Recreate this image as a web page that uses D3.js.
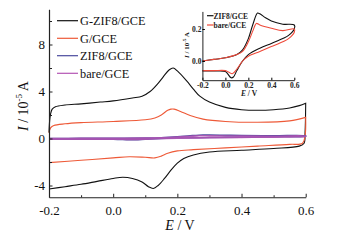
<!DOCTYPE html>
<html><head><meta charset="utf-8">
<script src="https://cdn.jsdelivr.net/npm/d3@7"></script>
<style>body{margin:0;background:#fff}svg{display:block}</style>
</head><body>
<svg id="c" width="358" height="244"></svg>
<script>
// ---------- main chart data (E / V, I / 10^-5 A) ----------
const seriesNames = ["G-ZIF8/GCE", "G/GCE", "ZIF8/GCE", "bare/GCE"];
const seriesColors = ["#111111", "#ee5a38", "#4a4a9e", "#b455b4"];

const gzifFwdE = [-0.2, -0.198, -0.195, -0.19, -0.18, -0.15, -0.1, -0.04, 0.0, 0.06, 0.09, 0.115, 0.14, 0.156, 0.175, 0.187, 0.2, 0.229, 0.25, 0.27, 0.3, 0.35, 0.4, 0.45, 0.5, 0.55, 0.58, 0.6];
const gzifFwdI = [0.5, 1.5, 2.1, 2.5, 2.7, 2.85, 2.95, 3.1, 3.2, 3.45, 3.6, 4.0, 4.7, 5.25, 5.85, 6.0, 5.75, 4.9, 4.2, 3.6, 3.1, 2.65, 2.45, 2.4, 2.45, 2.6, 2.8, 3.0];
const gzifRevE = [0.6, 0.598, 0.595, 0.58, 0.5, 0.4, 0.3, 0.25, 0.22, 0.2, 0.18, 0.16, 0.14, 0.125, 0.11, 0.09, 0.06, 0.03, 0.0, -0.05, -0.1, -0.15, -0.2];
const gzifRevI = [3.0, 0.5, -0.4, -0.65, -0.85, -1.0, -1.15, -1.4, -1.7, -2.1, -2.7, -3.4, -4.0, -4.25, -4.1, -3.7, -3.4, -3.3, -3.4, -3.65, -3.9, -4.1, -4.3];

const gFwdE = [-0.2, -0.195, -0.185, -0.15, -0.1, 0.0, 0.1, 0.13, 0.15, 0.17, 0.18, 0.19, 0.21, 0.24, 0.28, 0.35, 0.45, 0.55, 0.6];
const gFwdI = [0.5, 0.9, 1.1, 1.25, 1.35, 1.45, 1.6, 1.75, 2.0, 2.4, 2.5, 2.5, 2.3, 1.95, 1.65, 1.45, 1.38, 1.5, 1.8];
const gRevE = [0.6, 0.598, 0.59, 0.55, 0.45, 0.35, 0.25, 0.2, 0.17, 0.15, 0.13, 0.1, 0.05, 0.0, -0.1, -0.2];
const gRevI = [1.8, 0.2, -0.4, -0.5, -0.65, -0.8, -0.95, -1.05, -1.25, -1.5, -1.65, -1.6, -1.55, -1.65, -1.85, -2.05];

const zifFwdE = [-0.2, -0.1, 0.0, 0.1, 0.15, 0.2, 0.24, 0.28, 0.3, 0.35, 0.4, 0.5, 0.6];
const zifFwdI = [0.0, 0.01, 0.02, 0.04, 0.07, 0.14, 0.23, 0.3, 0.295, 0.27, 0.25, 0.23, 0.225];
const zifRevE = [0.6, 0.55, 0.5, 0.4, 0.3, 0.2, 0.15, 0.1, 0.07, 0.05, 0.02, 0.0, -0.1, -0.2];
const zifRevI = [0.2, 0.16, 0.14, 0.11, 0.08, 0.04, 0.0, -0.06, -0.1, -0.105, -0.08, -0.065, -0.062, -0.062];

const bareFwdE = [-0.2, -0.1, 0.0, 0.1, 0.15, 0.2, 0.24, 0.27, 0.3, 0.4, 0.5, 0.6];
const bareFwdI = [0.0, 0.01, 0.02, 0.04, 0.06, 0.12, 0.19, 0.235, 0.225, 0.205, 0.19, 0.2];
const bareRevE = [0.6, 0.55, 0.5, 0.4, 0.3, 0.2, 0.15, 0.1, 0.06, 0.03, 0.0, -0.1, -0.2];
const bareRevI = [0.18, 0.14, 0.12, 0.09, 0.06, 0.03, 0.0, -0.05, -0.08, -0.07, -0.06, -0.06, -0.06];

// tick labels
const mainXTicks = [-0.2, 0.0, 0.2, 0.4, 0.6];
const mainYTicks = [-4, 0, 4, 8];
const insetXTicks = [-0.2, 0.0, 0.2, 0.4, 0.6];
const insetYTicks = [0.0, 0.2];
const insetNames = ["ZIF8/GCE", "bare/GCE"];
const insetColors = ["#111111", "#ee4a3a"];

const svg = d3.select("#c");
const serif = "'Liberation Serif', 'Times New Roman', serif";

function loop(fe, fi, re, ri) {
  const pts = fe.map((e, i) => [e, fi[i]]);
  re.forEach((e, i) => pts.push([e, ri[i]]));
  return pts;
}

// ---------- main axes ----------
const x = d3.scaleLinear().domain([-0.2, 0.6]).range([49, 305.7]);
const y = d3.scaleLinear().domain([-5, 11]).range([197.25, 9.25]);

const line = d3.line().x(d => x(d[0])).y(d => y(d[1])).curve(d3.curveCatmullRom.alpha(0.5));

const mainData = [
  loop(gzifFwdE, gzifFwdI, gzifRevE, gzifRevI),
  loop(gFwdE, gFwdI, gRevE, gRevI),
  loop(zifFwdE, zifFwdI, zifRevE, zifRevI),
  loop(bareFwdE, bareFwdI, bareRevE, bareRevI)
];
const mainColors = [seriesColors[0], seriesColors[1], seriesColors[2], seriesColors[3]];
mainData.forEach((d, i) => {
  svg.append("path").attr("d", line(d)).attr("fill", "none")
    .attr("stroke", mainColors[i]).attr("stroke-width", i >= 2 ? 1.6 : 1.1)
    .attr("stroke-opacity", i === 3 ? 0.85 : 1);
});

// x axis
const xAxis = svg.append("g").attr("transform", `translate(0,${y(-5)})`)
  .call(d3.axisBottom(x).tickValues(mainXTicks).tickSizeInner(-3.5).tickSizeOuter(0).tickFormat(d3.format(".1f")));
svg.append("g").attr("transform", `translate(0,${y(-5)})`)
  .call(d3.axisBottom(x).tickValues([-0.1, 0.1, 0.3, 0.5]).tickSize(-2).tickFormat(""))
  .select(".domain").remove();
xAxis.selectAll("text").attr("y", 9).attr("font-family", serif).attr("font-size", 13).attr("fill", "#111");
xAxis.selectAll("text").text(d => d < 0 ? "-" + Math.abs(d).toFixed(1) : d.toFixed(1));

// y axis
const yAxis = svg.append("g").attr("transform", `translate(${x(-0.2)},0)`)
  .call(d3.axisLeft(y).tickValues(mainYTicks).tickSizeInner(-3.5).tickSizeOuter(0));
svg.append("g").attr("transform", `translate(${x(-0.2)},0)`)
  .call(d3.axisLeft(y).tickValues([-2, 2, 6, 10]).tickSize(-3).tickFormat(""))
  .select(".domain").remove();
yAxis.selectAll("text").attr("x", -4).attr("font-family", serif).attr("font-size", 13).attr("fill", "#111");
yAxis.selectAll("text").text(d => d < 0 ? "-" + Math.abs(d) : d);
svg.selectAll(".domain").attr("stroke", "#222").attr("stroke-width", 1.2);
svg.selectAll(".tick line").attr("stroke", "#222");

// axis titles
const xt = svg.append("text").attr("x", 180).attr("y", 230).attr("text-anchor", "middle")
  .attr("font-family", serif).attr("font-size", 14).attr("fill", "#111");
xt.append("tspan").attr("font-style", "italic").text("E");
xt.append("tspan").text(" / V");

const yt = svg.append("text").attr("transform", "translate(28,106) rotate(-90)").attr("text-anchor", "middle")
  .attr("font-family", serif).attr("font-size", 14).attr("fill", "#111");
yt.append("tspan").attr("font-style", "italic").text("I");
yt.append("tspan").text(" / 10");
yt.append("tspan").attr("font-size", 9).attr("dy", -6).text("-5");
yt.append("tspan").attr("dy", 6).text(" A");

// legend
const legY = [20.7, 38.3, 55.7, 73.3];
seriesNames.forEach((n, i) => {
  svg.append("line").attr("x1", 57).attr("x2", 78).attr("y1", legY[i]).attr("y2", legY[i])
    .attr("stroke", seriesColors[i]).attr("stroke-width", 1.2);
  svg.append("text").attr("x", 80).attr("y", legY[i] + 4.3).attr("font-family", serif)
    .attr("font-size", 12.3).attr("fill", "#111").text(n);
});

// ---------- inset ----------
const ix = d3.scaleLinear().domain([-0.2, 0.6]).range([202.4, 294.3]);
const iy = d3.scaleLinear().domain([-0.12, 0.31]).range([80.2, 11.4]);
const iline = d3.line().x(d => ix(d[0])).y(d => iy(d[1])).curve(d3.curveCatmullRom.alpha(0.5));
const insetData = [
  loop(zifFwdE, zifFwdI, zifRevE, zifRevI),
  loop(bareFwdE, bareFwdI, bareRevE, bareRevI)
];
insetData.forEach((d, i) => {
  svg.append("path").attr("d", iline(d)).attr("fill", "none")
    .attr("stroke", insetColors[i]).attr("stroke-width", 1.1);
});
const ixAxis = svg.append("g").attr("transform", `translate(0,${iy(-0.12)})`)
  .call(d3.axisBottom(ix).tickValues(insetXTicks).tickSizeInner(-2.5).tickSizeOuter(0));
ixAxis.selectAll("text").attr("y", 2).attr("font-family", serif).attr("font-size", 7.5)
  .attr("font-weight", "bold").attr("fill", "#222")
  .text(d => d < 0 ? "-" + Math.abs(d).toFixed(1) : d.toFixed(1));
const iyAxis = svg.append("g").attr("transform", `translate(${ix(-0.2)},0)`)
  .call(d3.axisLeft(iy).tickValues(insetYTicks).tickSizeInner(-2.5).tickSizeOuter(0));
iyAxis.selectAll("text").attr("x", -1).attr("font-family", serif).attr("font-size", 7.5)
  .attr("font-weight", "bold").attr("fill", "#222").text(d => d.toFixed(1));
ixAxis.select(".domain").attr("stroke", "#222").attr("stroke-width", 1);
iyAxis.select(".domain").attr("stroke", "#222").attr("stroke-width", 1);

const ixt = svg.append("text").attr("x", 249).attr("y", 96).attr("text-anchor", "middle")
  .attr("font-family", serif).attr("font-size", 7.5).attr("font-weight", "bold").attr("fill", "#222");
ixt.append("tspan").attr("font-style", "italic").text("E");
ixt.append("tspan").text(" / V");
const iyt = svg.append("text").attr("transform", "translate(189,45) rotate(-90)").attr("text-anchor", "middle")
  .attr("font-family", serif).attr("font-size", 7).attr("font-weight", "bold").attr("fill", "#222");
iyt.append("tspan").attr("font-style", "italic").text("I");
iyt.append("tspan").text(" / 10");
iyt.append("tspan").attr("font-size", 5).attr("dy", -3).text("-5");
iyt.append("tspan").attr("dy", 3).text(" A");

const iLegY = [15.7, 25];
insetNames.forEach((n, i) => {
  svg.append("line").attr("x1", 207).attr("x2", 213.5).attr("y1", iLegY[i]).attr("y2", iLegY[i])
    .attr("stroke", insetColors[i]).attr("stroke-width", 1.2);
  svg.append("text").attr("x", 213.5).attr("y", iLegY[i] + 2.8).attr("font-family", serif)
    .attr("font-size", 7.5).attr("font-weight", "bold").attr("fill", "#222").text(n);
});
</script>
</body></html>
